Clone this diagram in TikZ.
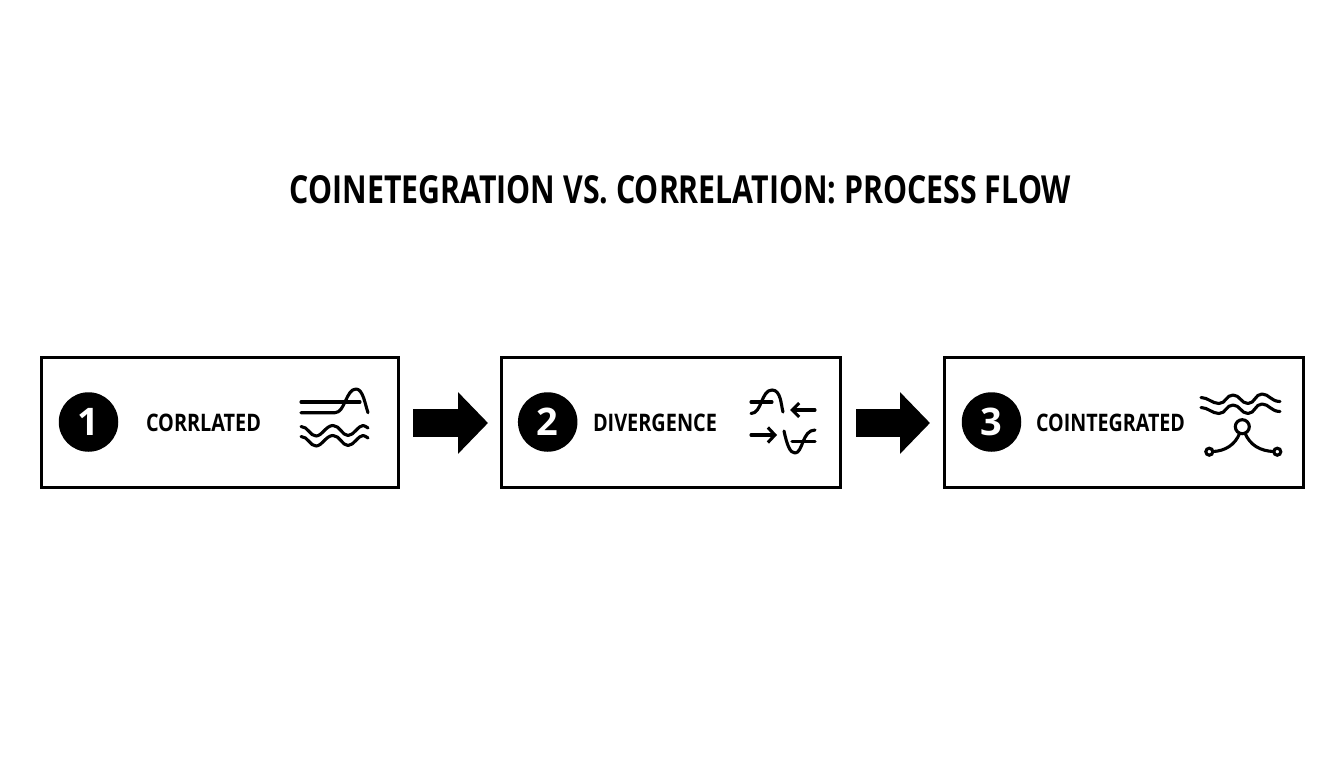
\documentclass[tikz,border=0pt]{standalone}
\usepackage{fontspec}
\usepackage{graphicx}
\setmainfont{Open Sans}[BoldFont={Open Sans Bold}]
\usetikzlibrary{arrows.meta}
\newcommand{\fit}[3]{\resizebox{#1pt}{#2pt}{\bfseries #3}}
\tikzset{
  x=1pt,y=-1pt,
  stepbox/.style={draw=black,line width=3pt,fill=white,minimum height=130pt,inner sep=0pt,outer sep=0pt,anchor=north west},
  badge/.style={circle,fill=black,text=white,minimum size=59.5pt,inner sep=0pt,font=\bfseries\fontsize{38}{38}\selectfont},
  label/.style={inner sep=0pt,text=black},
  flow/.style={line width=28.5pt,-{Triangle[length=30pt,width=60pt]}},
  icon/.style={line width=3.1pt,line cap=round,line join=round,draw=black},
  ring/.style={circle,draw=black,fill=white,line width=3.1pt,inner sep=0pt,outer sep=0pt}
}
\begin{document}
\begin{tikzpicture}
\useasboundingbox (0,0) rectangle (1344,768);
\fill[white] (0,0) rectangle (1344,768);
\node[label] (title) at (680.5,190) {\fit{781}{28}{COINETEGRATION VS. CORRELATION: PROCESS FLOW}};
\node[stepbox,minimum width=357pt] (b1) at (41,357) {};
\node[stepbox,minimum width=339pt] (b2) at (501,357) {};
\node[stepbox,minimum width=359pt] (b3) at (944,357) {};
\node[badge] (n1) at (88.5,422) {1};
\node[badge] (n2) at (547.7,422) {2};
\node[badge] (n3) at (991.5,422) {3};
\node[label] (t1) at (203.5,422.5) {\fit{115}{17.5}{CORRLATED}};
\node[label] (t2) at (655,422.5) {\fit{124}{17.5}{DIVERGENCE}};
\node[label] (t3) at (1110.5,422.5) {\fit{149}{17.5}{COINTEGRATED}};
\draw[flow,shorten <=15pt,shorten >=13pt] (b1.east |- 0,423) -- (b2.west |- 0,423);
\draw[flow,shorten <=16pt,shorten >=14pt] (b2.east |- 0,423) -- (b3.west |- 0,423);
% icon 1
\draw[icon] (301,402) -- (360,402);
\draw[icon] (301,412.7) -- (335,412.7) .. controls (345,412.7) and (346,389) .. (356,389) .. controls (363,389) and (365,404) .. (368,412.7);
\foreach \d in {0,10}{
\draw[icon,yshift=\d*-1pt] (301,426.5) .. controls (308,426.5) and (310,436) .. (316,436) .. controls (322,436) and (326,425.5) .. (333,425.5) .. controls (340,425.5) and (342,435.5) .. (348,435.5) .. controls (354,435.5) and (358,425.5) .. (363,425.5) .. controls (365,425.5) and (366,427) .. (368,428);
}
% icon 2
\draw[icon] (751,402) -- (772,402);
\draw[icon] (751,413.5) .. controls (762,413.5) and (761,390) .. (772,390) .. controls (781,390) and (781,405) .. (783,412);
\draw[icon,-{Straight Barb[length=7pt,width=14pt]}] (815,410) -- (790,410);
\draw[icon,-{Straight Barb[length=7pt,width=15pt]}] (751,435) -- (777,435);
\draw[icon] (784,431) .. controls (787,445) and (790,453) .. (795,453) .. controls (803,453) and (802,430) .. (815,430);
\draw[icon] (792,441.7) -- (815,441.7);
% icon 3
\node[ring,minimum size=14pt] (h) at (1242.3,426.7) {};
\node[ring,minimum size=7pt] (l) at (1209.3,451.7) {};
\node[ring,minimum size=7pt] (r) at (1277.3,451.7) {};
\draw[icon] (l) .. controls (1225,451) and (1235,445) .. (h);
\draw[icon] (r) .. controls (1260,451) and (1250,445) .. (h);
\foreach \d in {0,10}{
\draw[icon,yshift=\d*-1pt] (1201,397.5) .. controls (1208,397.5) and (1212,403.5) .. (1219,403.5) .. controls (1226,403.5) and (1226,395) .. (1233,395) .. controls (1240,395) and (1241,403.5) .. (1248,403.5) .. controls (1255,403.5) and (1255,394) .. (1262,394) .. controls (1269,394) and (1271,401.5) .. (1280,401.5);
}
\end{tikzpicture}
\end{document}
